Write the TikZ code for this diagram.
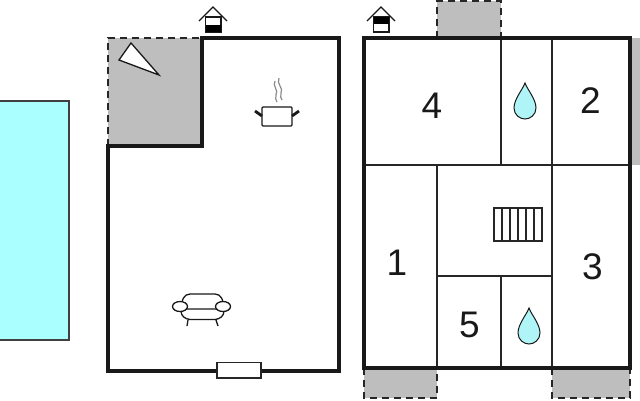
\documentclass[tikz,border=0pt]{standalone}
\usepackage{fontspec}
\setmainfont{Liberation Sans}
\definecolor{pool}{HTML}{AAFFFF}
\definecolor{drop}{HTML}{AFF5F8}
\definecolor{terr}{HTML}{BEBEBE}
\tikzset{
  wall/.style={line width=3.5pt,line cap=rect,line join=miter,black!90},
  inner wall/.style={line width=1.7pt,black!85},
  terrace/.style={fill=terr,draw=none},
  dashedge/.style={line width=1.8pt,dash pattern=on 7pt off 5pt,black!85},
  thin icon/.style={line width=1.3pt,black!90},
  numeral/.style={font=\fontsize{37}{37}\selectfont,text=black!90,inner sep=0pt},
  droplet/.pic={\draw[line width=1pt,black!90,fill=drop] (0,0) .. controls (2,6) and (11,16) .. (11,25) .. controls (11,32) and (5,36) .. (0,36) .. controls (-5,36) and (-11,32) .. (-11,25) .. controls (-11,16) and (-2,6) .. (0,0) -- cycle;}
}
\begin{document}
\begin{tikzpicture}[x=1pt,y=-1pt]
\useasboundingbox (0,0) rectangle (640,400);
\fill[white] (0,0) rectangle (640,400);
% pool
\draw[line width=1.4pt,draw=black!75,fill=pool] (-5,101) rectangle (69,340);
% left plan
\fill[terrace] (108,38) rectangle (202,146);
\draw[dashedge] (108,146) -- (108,38) -- (202,38);
\draw[wall] (108,146) -- (202,146) -- (202,38) -- (339,38) -- (339,371) -- (108,371) -- cycle;
% skylight triangle
\draw[thin icon,fill=white,line join=miter] (131,43) -- (119,60) -- (159,75) -- cycle;
% window
\draw[line width=1.2pt,black!85,fill=white] (217,362.5) rectangle (261,378);
% pot
\draw[thin icon,fill=white,rounded corners=1pt] (262,107) rectangle (292,126);
\draw[line width=2.8pt,black!90] (255,111) -- (262,116);
\draw[line width=2.8pt,black!90] (292,116) -- (299,111);
\draw[line width=1.2pt,black!45] (275,81) .. controls (272,86) and (279,90) .. (276,95) .. controls (275,98) and (276,100) .. (277,102);
\draw[line width=1.2pt,black!45] (279,78) .. controls (276,84) and (284,88) .. (281,93) .. controls (280,96) and (281,99) .. (282,100);
% couch
\draw[thin icon,fill=white] (182,309) .. controls (181,300) and (184,294) .. (190,294) -- (215,294) .. controls (221,294) and (224,300) .. (223,309) -- cycle;
\draw[thin icon,fill=white] (181,311) .. controls (181,316) and (185,319) .. (190,319.5) -- (215,319.5) .. controls (220,319) and (224,316) .. (224,311);
\draw[thin icon] (188,320) -- (187,326);
\draw[thin icon] (216,320) -- (218,326);
\draw[thin icon,fill=white] (180,306.5) ellipse [x radius=7.5,y radius=5];
\draw[thin icon,fill=white] (223,306.5) ellipse [x radius=7.5,y radius=5];
% entrance left
\draw[line width=1.2pt,black!90,fill=white] (205.5,17) rectangle (221,32);
\fill[black] (205.5,25) rectangle (221,32);
\draw[line width=1.3pt,black!90] (199,21) -- (213,7) -- (227,21);
% right plan terraces
\fill[terrace] (437,1) rectangle (501,38);
\fill[terrace] (632,38) rectangle (640,165);
\fill[terrace] (364,368) rectangle (437,398);
\fill[terrace] (552,368) rectangle (630,398);
\draw[dashedge] (437,38) -- (437,1) -- (501,1) -- (501,38);
\draw[dashedge] (364,368) -- (364,398) -- (437,398) -- (437,368);
\draw[dashedge] (552,368) -- (552,398) -- (630,398) -- (630,368);
% inner walls
\draw[inner wall] (364,165) -- (630,165);
\draw[inner wall] (501,38) -- (501,165);
\draw[inner wall] (552,38) -- (552,368);
\draw[inner wall] (437,165) -- (437,368);
\draw[inner wall] (437,276) -- (552,276);
\draw[inner wall] (501,276) -- (501,368);
% outer wall
\draw[wall] (364,38) rectangle (630,368);
% stairs
\draw[line width=1.1pt,black!85] (494,208) rectangle (542,241);
\foreach \sx in {502,510,518,526,534} \draw[line width=1.1pt,black!85] (\sx,208) -- (\sx,241);
% drops
\pic at (525,83) {droplet};
\pic at (529,308) {droplet};
% entrance right
\draw[line width=1.2pt,black!90,fill=white] (373.5,17) rectangle (389,32);
\fill[black] (373.5,17) rectangle (389,24);
\draw[line width=1.3pt,black!90] (367,21) -- (381,7) -- (395,21);
% numbers
\node[numeral] (n4) at (432,106) {4};
\node[numeral] (n2) at (590.5,100.5) {2};
\node[numeral] (n1) at (397,263) {1};
\node[numeral] (n3) at (592.5,267) {3};
\node[numeral] (n5) at (469.5,325) {5};
\end{tikzpicture}
\end{document}
